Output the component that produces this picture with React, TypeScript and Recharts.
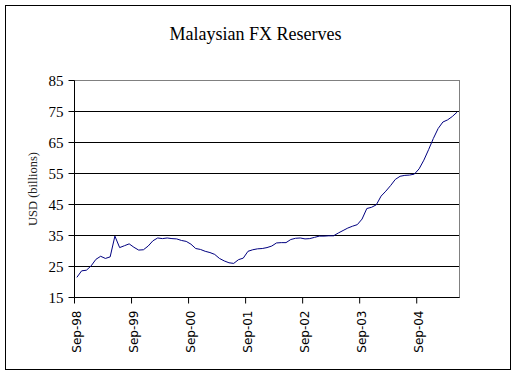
import { CartesianGrid, Line, LineChart, ReferenceLine, XAxis, YAxis } from "recharts";

// monthly FX reserves, USD billions, Sep-98 .. May-05
const reserves = [
    21.5, 23.6, 23.8, 25.2, 27.3, 28.3, 27.6, 28.1, 34.8, 31.1,
    31.7, 32.3, 31.2, 30.3, 30.4, 31.6, 33.3, 34.2, 34.0, 34.2,
    34.0, 33.9, 33.4, 33.1, 32.2, 30.8, 30.5, 29.9, 29.5, 28.9,
    27.6, 26.8, 26.2, 26.0, 27.2, 27.7, 29.9, 30.4, 30.7, 30.8,
    31.1, 31.6, 32.6, 32.7, 32.7, 33.7, 34.1, 34.2, 33.9, 34.0,
    34.4, 34.8, 34.8, 34.9, 34.9, 35.8, 36.6, 37.4, 38.0, 38.5,
    40.3, 43.7, 44.1, 44.9, 47.7, 49.3, 51.1, 53.1, 54.1, 54.4,
    54.5, 54.8, 56.5, 59.3, 62.7, 66.3, 69.5, 71.6, 72.3, 73.4,
    74.8,
];

const xTickMonths = [0, 12, 24, 36, 48, 60, 72];
const xTickLabels = ["Sep-98", "Sep-99", "Sep-00", "Sep-01", "Sep-02", "Sep-03", "Sep-04"];
const yTicks = [15, 25, 35, 45, 55, 65, 75, 85];

// each month sits in the middle of its slot (Excel "between categories")
const data = reserves.map((v, i) => ({ month: i + 0.5, value: v }));

const serif = "'Liberation Serif', 'Times New Roman', serif";

function MonthTick({ x, y, payload }: any) {
    const idx = xTickMonths.indexOf(payload.value);
    const tx = x + 6;
    const ty = y + 5;
    return (
        <text
            x={tx}
            y={ty}
            transform={`rotate(-90, ${tx}, ${ty})`}
            textAnchor="end"
            fontSize={12}
            fontFamily="'DejaVu Sans', sans-serif"
            fill="#000"
        >
            {xTickLabels[idx]}
        </text>
    );
}

function AxisTitle({ viewBox }: any) {
    const cx = viewBox.x + 33;
    const cy = viewBox.y + viewBox.height / 2;
    return (
        <text
            x={cx}
            y={cy}
            transform={`rotate(-90, ${cx}, ${cy})`}
            textAnchor="middle"
            dominantBaseline="central"
            fontSize={12.5}
            fontFamily={serif}
            fill="#222"
        >
            USD (billions)
        </text>
    );
}

export default function App() {
    return (
        <div style={{ position: "absolute", left: 0, top: 0, width: 517, height: 376, background: "#fff" }}>
            <div
                style={{
                    position: "absolute",
                    left: 5,
                    top: 5,
                    width: 506,
                    height: 365,
                    border: "1px solid #000",
                    boxSizing: "border-box",
                }}
            />
            <div
                style={{
                    position: "absolute",
                    left: 0,
                    top: 25,
                    width: 511,
                    textAlign: "center",
                    fontFamily: serif,
                    fontSize: 18,
                    lineHeight: "18px",
                    color: "#000",
                }}
            >
                Malaysian FX Reserves
            </div>
            <div style={{ position: "absolute", left: 0, top: 0 }}>
                <LineChart
                    width={517}
                    height={376}
                    data={data}
                    margin={{ top: 80.5, right: 57.5, bottom: 8.5, left: 0 }}
                >
                    <CartesianGrid vertical={false} stroke="#000" strokeWidth={1} />
                    <XAxis
                        dataKey="month"
                        type="number"
                        domain={[0, 81]}
                        ticks={xTickMonths}
                        interval={0}
                        height={70}
                        axisLine={{ stroke: "#000" }}
                        tickLine={{ stroke: "#000" }}
                        tickSize={6}
                        tick={<MonthTick />}
                    />
                    <YAxis
                        type="number"
                        domain={[15, 85]}
                        ticks={yTicks}
                        interval={0}
                        width={74.5}
                        axisLine={{ stroke: "#000" }}
                        tickLine={{ stroke: "#000" }}
                        tickSize={6}
                        tickMargin={5}
                        tick={{ fill: "#000", fontSize: 15, fontFamily: serif }}
                        label={<AxisTitle />}
                    />
                    <ReferenceLine y={85} stroke="#808080" />
                    <ReferenceLine x={81} stroke="#808080" />
                    <Line
                        type="linear"
                        dataKey="value"
                        stroke="#000080"
                        strokeWidth={1}
                        dot={false}
                        isAnimationActive={false}
                    />
                </LineChart>
            </div>
        </div>
    );
}
